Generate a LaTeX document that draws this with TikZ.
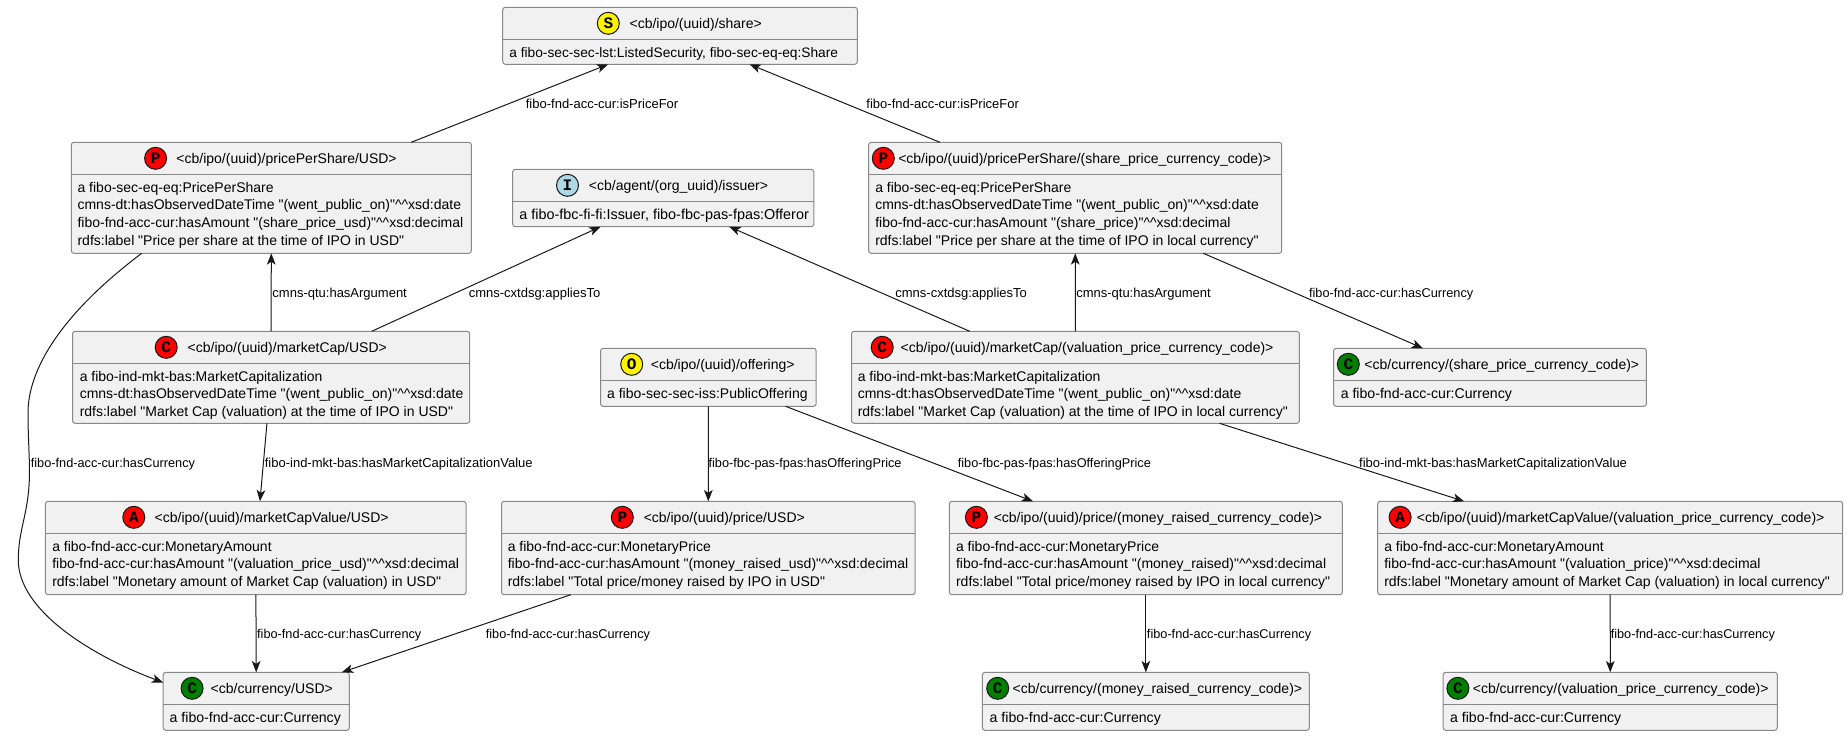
\documentclass[tikz,border=0pt]{standalone}
\usepackage{fontspec}
\setmainfont{Liberation Sans}[Ligatures=TeXOff]
\newfontfamily\iconfont{Liberation Mono}
\usetikzlibrary{arrows.meta,fit}
\definecolor{boxfill}{HTML}{F1F1F1}
\definecolor{boxline}{HTML}{888888}
\definecolor{inkline}{HTML}{181818}
\newcommand{\hats}{\string^\string^}
\tikzset{
  rdfbox/.style={draw=boxline,fill=boxfill,line width=0.75pt,rounded corners=2pt,inner sep=0pt,outer sep=0pt},
  rdfsep/.style={draw=boxline,line width=0.75pt},
  icon/.style={circle,draw=inkline,line width=0.75pt,minimum size=16.5pt,inner sep=0pt,font=\iconfont\bfseries\fontsize{12}{12}\selectfont},
  title/.style={anchor=base west,inner sep=0pt,font=\fontsize{10.5}{13}\selectfont},
  body/.style={anchor=north west,inner sep=0pt,align=left,font=\fontsize{10.5}{13.25}\selectfont,execute at begin node={\rule{0pt}{8pt}}},
  curbody/.style={body,font=\fontsize{10.6}{13.25}\selectfont},
  link/.style={draw=inkline,line width=0.75pt,-{Stealth[length=8.5pt,width=6.5pt,inset=2.2pt]}},
  edgelbl/.style={anchor=base west,inner sep=0pt,font=\fontsize{9.75}{12}\selectfont},
  tightlbl/.style={edgelbl,font=\fontsize{9.55}{12}\selectfont}
}
\begin{document}
\begin{tikzpicture}[x=0.75pt,y=-0.75pt]
\useasboundingbox (0,0) rectangle (1848,736);
% top
\node [rdfbox,fit={(502.7,7.3) (857.4,64.3)}] (share) {};
\draw [rdfsep] (share.west |- 0,39.3) -- (share.east |- 0,39.3);
\node [icon,fill=yellow] (shareicon) at (608.3,23.3) {S};
\node [title] (sharetitle) at (629.3,28.3) {<cb/ipo/(uuid)/share>};
\node [body,font=\fontsize{10.3}{13}\selectfont] (sharebody) at (509.1,46.9) {a fibo-sec-sec-lst:ListedSecurity, fibo-sec-eq-eq:Share};
% second row
\node [rdfbox,fit={(71.3,142.3) (471.4,253.3)}] (ppsusd) {};
\draw [rdfsep] (ppsusd.west |- 0,174.3) -- (ppsusd.east |- 0,174.3);
\node [icon,fill=red] (ppsusdicon) at (155.6,158.3) {P};
\node [title] (ppsusdtitle) at (176.2,163.3) {<cb/ipo/(uuid)/pricePerShare/USD>};
\node [body] (ppsusdbody) at (77.3,181.9) {a fibo-sec-eq-eq:PricePerShare\\
cmns-dt:hasObservedDateTime "(went\_public\_on)"\hats xsd:date\\
fibo-fnd-acc-cur:hasAmount "(share\_price\_usd)"\hats xsd:decimal\\
rdfs:label "Price per share at the time of IPO in USD"};

\node [rdfbox,fit={(512.7,169.3) (813.8,226.7)}] (issuer) {};
\draw [rdfsep] (issuer.west |- 0,201.3) -- (issuer.east |- 0,201.3);
\node [icon,fill={rgb,255:red,173;green,216;blue,230}] (issuericon) at (567.5,185.3) {I};
\node [title] (issuertitle) at (588.7,190.3) {<cb/agent/(org\_uuid)/issuer>};
\node [body,font=\fontsize{10.8}{13}\selectfont] (issuerbody) at (519.1,208.9) {a fibo-fbc-fi-fi:Issuer, fibo-fbc-pas-fpas:Offeror};

\node [rdfbox,fit={(868.6,142.3) (1281.7,253.3)}] (ppslocal) {};
\draw [rdfsep] (ppslocal.west |- 0,174.3) -- (ppslocal.east |- 0,174.3);
\node [icon,fill=red] (ppslocalicon) at (883.3,158.3) {P};
\node [title] (ppslocaltitle) at (898,163.3) {<cb/ipo/(uuid)/pricePerShare/(share\_price\_currency\_code)>};
\node [body] (ppslocalbody) at (875,181.9) {a fibo-sec-eq-eq:PricePerShare\\
cmns-dt:hasObservedDateTime "(went\_public\_on)"\hats xsd:date\\
fibo-fnd-acc-cur:hasAmount "(share\_price)"\hats xsd:decimal\\
rdfs:label "Price per share at the time of IPO in local currency"};
% third row
\node [rdfbox,fit={(72.5,331.3) (469.7,423.3)}] (mcusd) {};
\draw [rdfsep] (mcusd.west |- 0,363.3) -- (mcusd.east |- 0,363.3);
\node [icon,fill=red] (mcusdicon) at (166.2,347.3) {C};
\node [title] (mcusdtitle) at (187.4,352.3) {<cb/ipo/(uuid)/marketCap/USD>};
\node [body] (mcusdbody) at (79.5,370.9) {a fibo-ind-mkt-bas:MarketCapitalization\\
cmns-dt:hasObservedDateTime "(went\_public\_on)"\hats xsd:date\\
rdfs:label "Market Cap (valuation) at the time of IPO in USD"};

\node [rdfbox,fit={(600.5,348.3) (816.2,406.3)}] (offering) {};
\draw [rdfsep] (offering.west |- 0,380.3) -- (offering.east |- 0,380.3);
\node [icon,fill=yellow] (offeringicon) at (631.7,364.3) {O};
\node [title] (offeringtitle) at (650.6,369.3) {<cb/ipo/(uuid)/offering>};
\node [body] (offeringbody) at (606.9,387.9) {a fibo-sec-sec-iss:PublicOffering};

\node [rdfbox,fit={(851.5,331.3) (1299.4,423.3)}] (mclocal) {};
\draw [rdfsep] (mclocal.west |- 0,363.3) -- (mclocal.east |- 0,363.3);
\node [icon,fill=red] (mclocalicon) at (882.2,347.3) {C};
\node [title] (mclocaltitle) at (900.4,352.3) {<cb/ipo/(uuid)/marketCap/(valuation\_price\_currency\_code)>};
\node [body] (mclocalbody) at (857.5,370.9) {a fibo-ind-mkt-bas:MarketCapitalization\\
cmns-dt:hasObservedDateTime "(went\_public\_on)"\hats xsd:date\\
rdfs:label "Market Cap (valuation) at the time of IPO in local currency"};

\node [rdfbox,fit={(1333.5,348.3) (1646.4,406.3)}] (curshare) {};
\draw [rdfsep] (curshare.west |- 0,380.3) -- (curshare.east |- 0,380.3);
\node [icon,fill={rgb,255:red,0;green,128;blue,0}] (curshareicon) at (1348.3,364.3) {C};
\node [title] (cursharetitle) at (1364.2,369.3) {<cb/currency/(share\_price\_currency\_code)>};
\node [curbody] (cursharebody) at (1340.5,387.9) {a fibo-fnd-acc-cur:Currency};
% fourth row
\node [rdfbox,fit={(45.4,501.3) (466.1,594.7)}] (mvusd) {};
\draw [rdfsep] (mvusd.west |- 0,533.3) -- (mvusd.east |- 0,533.3);
\node [icon,fill=red] (mvusdicon) at (133.8,517.3) {A};
\node [title] (mvusdtitle) at (154.4,522.3) {<cb/ipo/(uuid)/marketCapValue/USD>};
\node [body] (mvusdbody) at (52,540.9) {a fibo-fnd-acc-cur:MonetaryAmount\\
fibo-fnd-acc-cur:hasAmount "(valuation\_price\_usd)"\hats xsd:decimal\\
rdfs:label "Monetary amount of Market Cap (valuation) in USD"};

\node [rdfbox,fit={(501.5,501.3) (915.1,594.7)}] (priceusd) {};
\draw [rdfsep] (priceusd.west |- 0,533.3) -- (priceusd.east |- 0,533.3);
\node [icon,fill=red] (priceusdicon) at (622.3,517.3) {P};
\node [title] (priceusdtitle) at (643.5,522.3) {<cb/ipo/(uuid)/price/USD>};
\node [body] (priceusdbody) at (507.5,540.9) {a fibo-fnd-acc-cur:MonetaryPrice\\
fibo-fnd-acc-cur:hasAmount "(money\_raised\_usd)"\hats xsd:decimal\\
rdfs:label "Total price/money raised by IPO in USD"};

\node [rdfbox,fit={(949.3,501.3) (1342.4,594.7)}] (pricelocal) {};
\draw [rdfsep] (pricelocal.west |- 0,533.3) -- (pricelocal.east |- 0,533.3);
\node [icon,fill=red] (pricelocalicon) at (976.4,517.3) {P};
\node [title] (pricelocaltitle) at (993.5,522.3) {<cb/ipo/(uuid)/price/(money\_raised\_currency\_code)>};
\node [body] (pricelocalbody) at (955.8,540.9) {a fibo-fnd-acc-cur:MonetaryPrice\\
fibo-fnd-acc-cur:hasAmount "(money\_raised)"\hats xsd:decimal\\
rdfs:label "Total price/money raised by IPO in local currency"};

\node [rdfbox,fit={(1377.7,501.3) (1842.7,594.7)}] (mvlocal) {};
\draw [rdfsep] (mvlocal.west |- 0,533.3) -- (mvlocal.east |- 0,533.3);
\node [icon,fill=red] (mvlocalicon) at (1400.1,517.3) {A};
\node [title] (mvlocaltitle) at (1416.6,522.3) {<cb/ipo/(uuid)/marketCapValue/(valuation\_price\_currency\_code)>};
\node [body] (mvlocalbody) at (1384,540.9) {a fibo-fnd-acc-cur:MonetaryAmount\\
fibo-fnd-acc-cur:hasAmount "(valuation\_price)"\hats xsd:decimal\\
rdfs:label "Monetary amount of Market Cap (valuation) in local currency"};
% bottom row
\node [rdfbox,fit={(163.2,672.3) (349.4,730.3)}] (curusd) {};
\draw [rdfsep] (curusd.west |- 0,704.3) -- (curusd.east |- 0,704.3);
\node [icon,fill={rgb,255:red,0;green,128;blue,0}] (curusdicon) at (192.1,688.3) {C};
\node [title] (curusdtitle) at (210.4,693.3) {<cb/currency/USD>};
\node [curbody] (curusdbody) at (169.4,711.9) {a fibo-fnd-acc-cur:Currency};

\node [rdfbox,fit={(982.3,672.3) (1309.4,730.3)}] (curmoney) {};
\draw [rdfsep] (curmoney.west |- 0,704.3) -- (curmoney.east |- 0,704.3);
\node [icon,fill={rgb,255:red,0;green,128;blue,0}] (curmoneyicon) at (997.7,688.3) {C};
\node [title] (curmoneytitle) at (1012.4,693.3) {<cb/currency/(money\_raised\_currency\_code)>};
\node [curbody] (curmoneybody) at (989.4,711.9) {a fibo-fnd-acc-cur:Currency};

\node [rdfbox,fit={(1443.2,672.3) (1777.3,730.3)}] (curval) {};
\draw [rdfsep] (curval.west |- 0,704.3) -- (curval.east |- 0,704.3);
\node [icon,fill={rgb,255:red,0;green,128;blue,0}] (curvalicon) at (1457.9,688.3) {C};
\node [title] (curvaltitle) at (1472.6,693.3) {<cb/currency/(valuation\_price\_currency\_code)>};
\node [curbody] (curvalbody) at (1449.8,711.9) {a fibo-fnd-acc-cur:Currency};
% connectors
\draw [link] (ppsusd) -- (share);
\draw [link] (ppslocal) -- (share);
\draw [link] (mcusd) -- (ppsusd);
\draw [link] (mcusd) -- (issuer);
\draw [link] (mclocal) -- (issuer);
\draw [link] (mclocal) -- (ppslocal);
\draw [link] (ppslocal) -- (curshare);
\draw [link] (mcusd) -- (mvusd);
\draw [link] (offering) -- (priceusd);
\draw [link] ([shift={(77.2,0)}]offering.south) -- ([shift={(-112.85,0)}]pricelocal.north);
\draw [link] (mclocal) -- (mvlocal);
\draw [link] (mvusd) -- (curusd);
\draw [link] (priceusd) -- (curusd);
\draw [link] (pricelocal) -- (curmoney);
\draw [link] (mvlocal) -- (curval);
\draw [link] ([shift={(70.4,0)}]ppsusd.south west)
	.. controls (60,315) and (28,370) .. (28,413)
	.. controls (28,440) and (30,460) .. (29.3,480)
	.. controls (28,515) and (18.3,530) .. (18.3,560)
	.. controls (18.3,610) and (90,655) .. ([shift={(0,10.2)}]curusd.north west);
% connector labels
\node [edgelbl] (lblshareusd) at (525.6,108.7) {fibo-fnd-acc-cur:isPriceFor};
\node [edgelbl] (lblsharelocal) at (866.2,108.7) {fibo-fnd-acc-cur:isPriceFor};
\node [edgelbl] (lblargusd) at (272.2,297.7) {cmns-qtu:hasArgument};
\node [edgelbl] (lblissuerusd) at (468.5,297.7) {cmns-cxtdsg:appliesTo};
\node [edgelbl] (lblissuerlocal) at (895.1,297.7) {cmns-cxtdsg:appliesTo};
\node [edgelbl] (lblarglocal) at (1076,297.7) {cmns-qtu:hasArgument};
\node [tightlbl] (lblcurshare) at (1308.8,297.7) {fibo-fnd-acc-cur:hasCurrency};
\node [tightlbl] (lblcurcurve) at (30.6,467.7) {fibo-fnd-acc-cur:hasCurrency};
\node [edgelbl] (lblvalusd) at (264.6,467.7) {fibo-ind-mkt-bas:hasMarketCapitalizationValue};
\node [tightlbl] (lblofferusd) at (708.3,467.7) {fibo-fbc-pas-fpas:hasOfferingPrice};
\node [tightlbl] (lblofferlocal) at (957.6,467.7) {fibo-fbc-pas-fpas:hasOfferingPrice};
\node [edgelbl] (lblvallocal) at (1358.9,467.7) {fibo-ind-mkt-bas:hasMarketCapitalizationValue};
\node [tightlbl] (lblcurmv) at (256.9,638.7) {fibo-fnd-acc-cur:hasCurrency};
\node [tightlbl] (lblcurprice) at (485.6,638.7) {fibo-fnd-acc-cur:hasCurrency};
\node [tightlbl] (lblcurmoney) at (1146.7,638.7) {fibo-fnd-acc-cur:hasCurrency};
\node [tightlbl] (lblcurval) at (1610.5,638.7) {fibo-fnd-acc-cur:hasCurrency};
\end{tikzpicture}
\end{document}
